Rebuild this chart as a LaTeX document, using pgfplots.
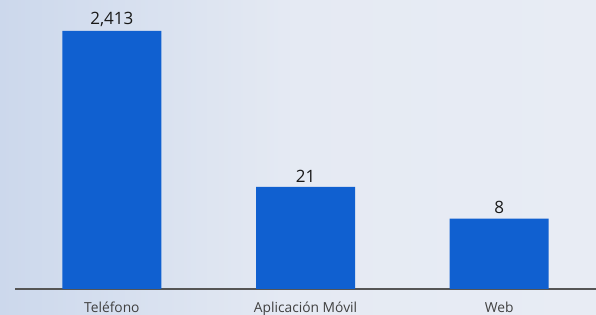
\documentclass[border=0pt]{standalone}
\usepackage{pgfplots}
\pgfplotsset{compat=1.18}
\usepackage{fontspec}
\setmainfont{Open Sans}
\definecolor{barblue}{RGB}{16,96,208}
\definecolor{bgleft}{RGB}{204,216,236}
\definecolor{bgright}{RGB}{232,236,244}
\definecolor{ticktext}{RGB}{64,64,64}
\definecolor{axisline}{RGB}{85,85,85}
\begin{document}
\begin{tikzpicture}[x=1pt,y=1pt]
\useasboundingbox (0,0) rectangle (596,315);
\shade[left color=bgleft, right color=bgright, middle color=bgright!90!bgleft] (0,0) rectangle (596,315);
\begin{axis}[
  at={(15pt,26pt)}, anchor=south west,
  scale only axis, width=581pt, height=289pt,
  ymode=log, ymin=0.94, ymax=6180,
  xmin=-0.5, xmax=2.5,
  axis y line=none,
  axis x line*=bottom,
  x axis line style={axisline, line width=1.5pt, -},
  xtick={0,1,2}, xticklabels={Teléfono, Aplicación Móvil, Web},
  xtick style={draw=none},
  xticklabel style={font=\fontsize{13.8}{15}\selectfont, text=ticktext, yshift=-5pt},
  ybar, bar width=99pt,
  log origin=infty,
  point meta=explicit symbolic,
  nodes near coords,
  nodes near coords style={font=\fontsize{17}{19}\selectfont, text=black!90, yshift=1pt},
  clip=false,
]
\addplot[fill=barblue, draw=none] coordinates {(0,2413) [2,413] (1,21) [21] (2,8) [8]};
\end{axis}
\end{tikzpicture}
\end{document}
